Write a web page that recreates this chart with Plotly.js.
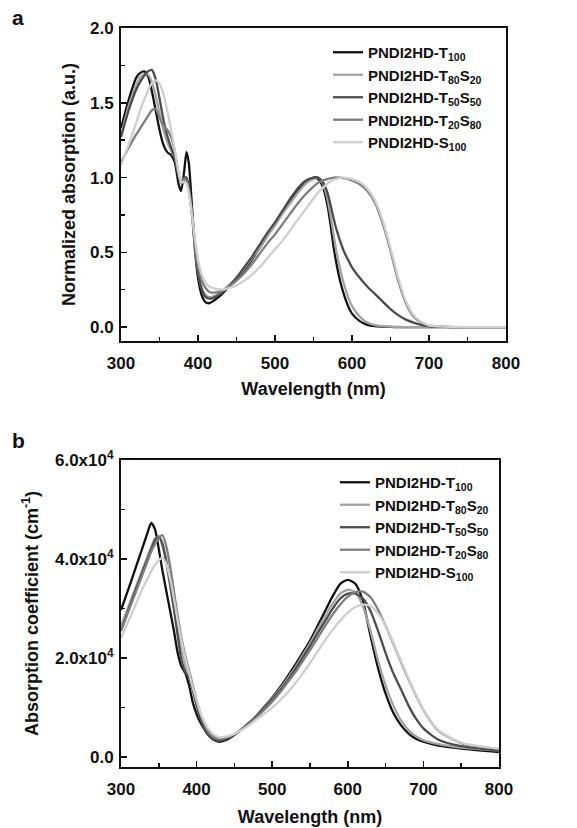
<!DOCTYPE html>
<html>
<head>
<meta charset="utf-8">
<script src="https://cdn.plot.ly/plotly-3.0.1.min.js"></script>
<style>html,body{margin:0;padding:0;background:#fff;}#chart{width:577px;height:828px;}</style>
</head>
<body>
<div id="chart"></div>
<script>
// ---------- Data ----------
const seriesNames = [
  'PNDI2HD-T<sub>100</sub>',
  'PNDI2HD-T<sub>80</sub>S<sub>20</sub>',
  'PNDI2HD-T<sub>50</sub>S<sub>50</sub>',
  'PNDI2HD-T<sub>20</sub>S<sub>80</sub>',
  'PNDI2HD-S<sub>100</sub>'
];
const seriesColors = ['#111111', '#a3a3a3', '#4d4d4d', '#7e7e7e', '#cfcfcf'];

// (a) normalized absorption
const wlA = [300,310,320,325,330,335,340,345,350,355,360,365,370,375,378,382,385,388,392,396,
  400,405,410,415,420,430,440,450,460,470,480,490,500,510,520,530,540,550,556,562,568,572,576,580,585,590,595,600,
  610,620,630,640,650,660,670,680,690,700,720,750,800];
const normT100 = [1.33,1.52,1.67,1.70,1.71,1.68,1.58,1.45,1.32,1.22,1.17,1.15,1.10,0.95,0.91,1.04,1.17,1.10,0.82,0.52,
  0.33,0.21,0.165,0.16,0.175,0.215,0.27,0.32,0.38,0.45,0.53,0.61,0.69,0.77,0.85,0.92,0.97,1.0,0.99,0.94,0.82,0.69,0.54,0.42,0.30,0.21,0.14,0.09,
  0.04,0.015,0.006,0.003,0.001,0,0,0,0,0,0,0,0];
const normT80S20 = [1.28,1.48,1.62,1.67,1.69,1.69,1.64,1.55,1.43,1.32,1.24,1.18,1.13,1.01,0.96,0.98,0.98,0.93,0.76,0.53,
  0.37,0.26,0.215,0.20,0.205,0.235,0.28,0.33,0.39,0.46,0.53,0.61,0.68,0.76,0.83,0.90,0.96,0.99,1.0,0.96,0.86,0.75,0.62,0.50,0.38,0.28,0.20,0.14,
  0.07,0.03,0.013,0.006,0.003,0.001,0,0,0,0,0,0,0];
const normT50S50 = [1.27,1.45,1.59,1.64,1.68,1.71,1.72,1.66,1.53,1.39,1.28,1.20,1.13,1.01,0.97,1.00,1.00,0.95,0.78,0.55,
  0.37,0.25,0.20,0.19,0.195,0.225,0.27,0.33,0.40,0.47,0.55,0.63,0.70,0.78,0.86,0.93,0.98,1.0,1.0,0.97,0.90,0.82,0.73,0.65,0.57,0.50,0.45,0.40,
  0.33,0.27,0.22,0.17,0.12,0.08,0.05,0.03,0.015,0.005,0.001,0,0];
const normT20S80 = [1.10,1.20,1.29,1.33,1.37,1.41,1.45,1.46,1.40,1.35,1.32,1.27,1.17,1.02,0.98,0.99,0.98,0.92,0.76,0.56,
  0.41,0.31,0.26,0.235,0.23,0.24,0.27,0.31,0.36,0.42,0.49,0.56,0.62,0.69,0.76,0.83,0.89,0.94,0.965,0.98,0.99,0.995,1.0,1.0,1.0,0.995,0.99,0.98,
  0.955,0.91,0.83,0.69,0.51,0.31,0.16,0.07,0.03,0.01,0.002,0,0];
const normS100 = [1.08,1.22,1.37,1.45,1.52,1.58,1.63,1.65,1.63,1.56,1.45,1.32,1.18,1.03,0.97,0.97,0.96,0.90,0.76,0.59,
  0.45,0.35,0.295,0.27,0.26,0.25,0.26,0.28,0.31,0.35,0.40,0.46,0.52,0.58,0.65,0.72,0.79,0.86,0.90,0.93,0.96,0.975,0.985,0.99,1.0,1.0,0.995,0.99,
  0.97,0.925,0.845,0.71,0.53,0.33,0.175,0.08,0.035,0.012,0.003,0,0];

// (b) absorption coefficient (cm^-1)
const wlB = [300,310,320,330,335,340,345,350,355,360,365,370,375,380,385,390,395,400,405,410,415,420,425,430,
  440,450,460,470,480,490,500,510,520,530,540,550,560,570,580,590,600,610,620,630,640,650,660,670,680,690,700,720,750,800];
const coefT100 = [29700,34000,38500,43000,45300,47300,46000,42000,37500,33500,29500,25500,21000,18300,17000,14500,11000,8700,7000,5700,4600,3800,3300,3100,
  3500,4500,5700,7000,8500,10200,12000,14000,16200,18500,21000,23500,26500,29500,32500,35000,35800,35000,31500,24500,18000,12800,9000,6500,4800,3700,3100,2300,1700,1000];
const coefT80S20 = [26500,30500,34500,38500,40500,42500,44200,44600,42500,39000,34500,30000,25500,21500,18500,16200,13500,10500,8000,6200,5000,4200,3800,3600,
  3900,4600,5700,7000,8400,10000,11800,13700,15800,18000,20500,23000,25800,28500,31000,33000,33800,33300,30500,25500,19500,14500,10500,7500,5500,4200,3400,2600,1900,1300];
const coefT50S50 = [25500,29800,34000,38000,40000,42000,43800,44500,43000,39500,35000,30000,24500,19500,17200,16000,13500,10500,7800,5800,4500,3800,3400,3300,
  3700,4500,5600,6900,8300,9900,11600,13400,15400,17600,20000,22400,25000,27500,30000,32000,33000,33000,32000,29500,25500,21000,17000,13800,10500,7800,5800,3500,2200,1300];
const coefT20S80 = [25500,29500,33500,37500,39500,41500,43000,44300,44800,42500,38500,33500,28500,24000,20500,17500,14500,11500,8800,6800,5300,4500,4000,3700,
  4000,4600,5600,6800,8100,9600,11200,13000,15000,17000,19300,21600,24000,26500,28800,30800,32400,33300,33400,32300,29800,26500,23000,19300,15800,12500,9500,5300,2800,1600];
const coefS100 = [24000,27500,31000,34500,36000,37500,38800,39800,40200,39000,36000,32000,27500,23500,20000,17000,14000,11500,9000,7200,5800,4900,4300,4000,
  4200,4700,5500,6500,7700,8800,10000,11400,13000,14800,16800,19000,21300,23600,25700,27600,29200,30300,30800,30500,29000,26500,23200,19500,16000,12600,9600,5400,2900,1700];

const xTicks = [300,400,500,600,700,800];
const yTicksA = [0,0.5,1.0,1.5,2.0];
const yTickTextA = ['0.0','0.5','1.0','1.5','2.0'];
const yTicksB = [0,20000,40000,60000];
const yTickTextB = ['0.0','2.0x10<sup>4</sup>','4.0x10<sup>4</sup>','6.0x10<sup>4</sup>'];

// ---------- Build ----------
const W = 577, H = 828;
const normSeries = [normT100, normT80S20, normT50S50, normT20S80, normS100];
const coefSeries = [coefT100, coefT80S20, coefT50S50, coefT20S80, coefS100];
const traces = [];
normSeries.forEach((ys, i) => traces.push({
  x: wlA, y: ys, type: 'scatter', mode: 'lines', name: seriesNames[i],
  line: {color: seriesColors[i], width: 2.3, shape: 'spline', smoothing: 0.6},
  xaxis: 'x', yaxis: 'y', legend: 'legend'
}));
coefSeries.forEach((ys, i) => traces.push({
  x: wlB, y: ys, type: 'scatter', mode: 'lines', name: seriesNames[i],
  line: {color: seriesColors[i], width: 2.3, shape: 'spline', smoothing: 0.6},
  xaxis: 'x2', yaxis: 'y2', legend: 'legend2'
}));

const FONT = 'Arial, "Liberation Sans", Helvetica, sans-serif';
const tickFont = {family: FONT, size: 17, color: '#111', weight: 'bold'};
const titleFont = {family: FONT, size: 18, color: '#111', weight: 'bold'};
const axisCommon = {
  showline: true, linecolor: '#111', linewidth: 2, mirror: true,
  ticks: 'inside', ticklen: 6, tickwidth: 1.5, tickcolor: '#111',
  showgrid: false, zeroline: false, tickfont: tickFont
};
const px = v => v / W, py = v => 1 - v / H;

const layout = {
  width: W, height: H,
  margin: {l: 0, r: 0, t: 0, b: 0},
  paper_bgcolor: '#fff', plot_bgcolor: '#fff',
  showlegend: true,
  xaxis: Object.assign({}, axisCommon, {
    domain: [px(121), px(506)], anchor: 'y', range: [300, 800],
    tickvals: xTicks, ticklabelstandoff: 6,
    minor: {ticks: 'inside', dtick: 50, tick0: 350, ticklen: 4, tickwidth: 1.5, tickcolor: '#111'},
    title: {text: 'Wavelength (nm)', font: titleFont, standoff: 10}
  }),
  yaxis: Object.assign({}, axisCommon, {
    domain: [py(341), py(28)], anchor: 'x', range: [-0.093, 2.0],
    tickvals: yTicksA, ticktext: yTickTextA, ticklabelstandoff: 2,
    minor: {ticks: 'inside', dtick: 0.25, tick0: 0.25, ticklen: 4, tickwidth: 1.5, tickcolor: '#111'},
    title: {text: 'Normalized absorption (a.u.)', font: titleFont, standoff: 10}
  }),
  xaxis2: Object.assign({}, axisCommon, {
    domain: [px(121), px(499)], anchor: 'y2', range: [300, 800],
    tickvals: xTicks, ticklabelstandoff: 6,
    minor: {ticks: 'inside', dtick: 50, tick0: 350, ticklen: 4, tickwidth: 1.5, tickcolor: '#111'},
    title: {text: 'Wavelength (nm)', font: titleFont, standoff: 12}
  }),
  yaxis2: Object.assign({}, axisCommon, {
    domain: [py(767), py(460)], anchor: 'x2', range: [-2000, 60000],
    tickvals: yTicksB, ticktext: yTickTextB, ticklabelstandoff: 2,
    minor: {ticks: 'inside', dtick: 10000, tick0: 10000, ticklen: 4, tickwidth: 1.5, tickcolor: '#111'},
    title: {text: 'Absorption coefficient (cm<sup>-1</sup>)', font: titleFont, standoff: 12}
  }),
  legend: {
    x: px(328), y: py(36), xanchor: 'left', yanchor: 'top',
    bgcolor: 'rgba(0,0,0,0)', borderwidth: 0,
    font: {family: FONT, size: 15, color: '#111', weight: 'bold'},
    itemwidth: 30, tracegroupgap: 0
  },
  legend2: {
    x: px(335), y: py(466), xanchor: 'left', yanchor: 'top',
    bgcolor: 'rgba(0,0,0,0)', borderwidth: 0,
    font: {family: FONT, size: 15, color: '#111', weight: 'bold'},
    itemwidth: 30, tracegroupgap: 0
  },
  annotations: [
    {text: 'a', x: px(18), y: py(18), xref: 'paper', yref: 'paper', showarrow: false,
     xanchor: 'center', yanchor: 'middle', font: {family: FONT, size: 21, color: '#111', weight: 'bold'}},
    {text: 'b', x: px(18), y: py(440), xref: 'paper', yref: 'paper', showarrow: false,
     xanchor: 'center', yanchor: 'middle', font: {family: FONT, size: 21, color: '#111', weight: 'bold'}}
  ]
};

Plotly.newPlot('chart', traces, layout, {displayModeBar: false, staticPlot: true});
</script>
</body>
</html>
